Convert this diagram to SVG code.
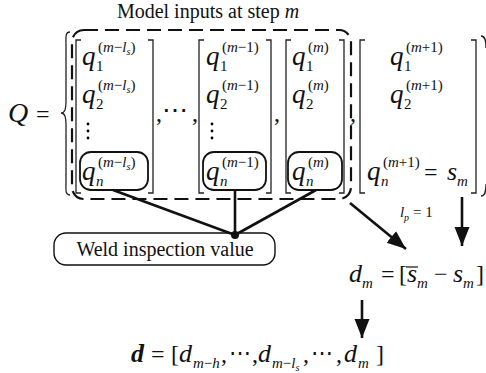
<svg xmlns="http://www.w3.org/2000/svg" width="486" height="373" viewBox="0 0 486 373">
<style>
text{font-family:"Liberation Serif","Times New Roman",serif;fill:#111}
.mi{font-style:italic;font-size:26px}
.q{font-style:italic;font-size:27px}
.up{font-size:24px}
.sb{font-size:15px}
.sp{font-size:15px}
.it{font-style:italic}
.ss{font-style:italic;font-size:10px}
.lbl{font-size:20px}
.dots{font-family:"DejaVu Serif",serif;font-size:26px}
.dots2{font-family:"DejaVu Serif",serif;font-size:22px}
.br{fill:none;stroke:#222;stroke-width:1.3}
.box{fill:none;stroke:#111;stroke-width:1.8}
.conn{fill:none;stroke:#111;stroke-width:2.6}
.dash{fill:none;stroke:#111;stroke-width:2.2;stroke-dasharray:14 7}
</style>
<defs>
<marker id="ah" markerUnits="userSpaceOnUse" markerWidth="20" markerHeight="16" refX="19" refY="7.5" orient="auto">
<path d="M0,0 L19,7.5 L0,15 z" fill="#111"/>
</marker>
</defs>

<g id="title"><text class="lbl" x="208" y="18" text-anchor="middle">Model inputs at step <tspan class="it">m</tspan></text></g>

<g id="Q-label">
<text class="mi" x="8" y="122" style="font-size:28px">Q</text>
<text class="up" x="36" y="122">=</text>
<path class="br" d="M70,32 C65,32 66,37 66,46 L66,100 C66,109 65,113 61,113 C65,113 66,117 66,126 L66,181 C66,190 65,195 70,195"/>
<path class="br" d="M481,36 C485,36 486,40 486,48 M481,196 C485,196 486,192 486,184"/>
</g>

<g id="inputs-frame"><rect class="dash" x="72" y="30" width="279" height="169" rx="12"/></g>

<g id="matrix-m-ls">
<path class="br" d="M81,40 H76 V193 H81 M148,40 H153 V193 H148"/>
<text class="q" x="82" y="65">q</text><text class="sb" x="96" y="71">1</text>
<text class="sp" x="98" y="52">(<tspan class="it">m</tspan>−<tspan class="it">l</tspan><tspan class="ss" dy="3">s</tspan><tspan dy="-3">)</tspan></text>
<text class="q" x="82" y="103">q</text><text class="sb" x="96" y="109">2</text>
<text class="sp" x="98" y="90">(<tspan class="it">m</tspan>−<tspan class="it">l</tspan><tspan class="ss" dy="3">s</tspan><tspan dy="-3">)</tspan></text>
<circle cx="88" cy="124" r="1.4"/><circle cx="88" cy="131" r="1.4"/><circle cx="88" cy="138" r="1.4"/>
<rect class="box" x="80" y="152" width="68" height="38" rx="11"/>
<text class="q" x="82" y="180">q</text><text class="sb it" x="96" y="186">n</text>
<text class="sp" x="98" y="167">(<tspan class="it">m</tspan>−<tspan class="it">l</tspan><tspan class="ss" dy="3">s</tspan><tspan dy="-3">)</tspan></text>
</g>

<text class="up" x="156" y="121">,</text>
<text class="dots" x="175" y="119" text-anchor="middle">⋯</text>
<text class="up" x="192" y="121">,</text>

<g id="matrix-m-1">
<path class="br" d="M204,40 H199 V193 H204 M266,40 H271 V193 H266"/>
<text class="q" x="206" y="65">q</text><text class="sb" x="220" y="71">1</text>
<text class="sp" x="222" y="52">(<tspan class="it">m</tspan>−1)</text>
<text class="q" x="206" y="103">q</text><text class="sb" x="220" y="109">2</text>
<text class="sp" x="222" y="90">(<tspan class="it">m</tspan>−1)</text>
<circle cx="212" cy="124" r="1.4"/><circle cx="212" cy="131" r="1.4"/><circle cx="212" cy="138" r="1.4"/>
<rect class="box" x="203" y="152" width="63" height="38" rx="11"/>
<text class="q" x="206" y="180">q</text><text class="sb it" x="220" y="186">n</text>
<text class="sp" x="222" y="167">(<tspan class="it">m</tspan>−1)</text>
</g>

<text class="up" x="274" y="121">,</text>

<g id="matrix-m">
<path class="br" d="M291,40 H286 V193 H291 M339,40 H344 V193 H339"/>
<text class="q" x="292" y="65">q</text><text class="sb" x="306" y="71">1</text>
<text class="sp" x="308" y="52">(<tspan class="it">m</tspan>)</text>
<text class="q" x="292" y="103">q</text><text class="sb" x="306" y="109">2</text>
<text class="sp" x="308" y="90">(<tspan class="it">m</tspan>)</text>
<rect class="box" x="288" y="152" width="54" height="38" rx="11"/>
<text class="q" x="292" y="180">q</text><text class="sb it" x="306" y="186">n</text>
<text class="sp" x="308" y="167">(<tspan class="it">m</tspan>)</text>
</g>

<text class="up" x="350" y="121">,</text>

<g id="matrix-m1">
<path class="br" d="M365,40 H360 V193 H365 M471,40 H476 V193 H471"/>
<text class="q" x="390" y="65">q</text><text class="sb" x="404" y="71">1</text>
<text class="sp" x="406" y="52">(<tspan class="it">m</tspan>+1)</text>
<text class="q" x="390" y="103">q</text><text class="sb" x="404" y="109">2</text>
<text class="sp" x="406" y="90">(<tspan class="it">m</tspan>+1)</text>
<text class="q" x="367" y="180">q</text><text class="sb it" x="381" y="186">n</text>
<text class="sp" x="383" y="167">(<tspan class="it">m</tspan>+1)</text>
<text class="up" x="424" y="180">=</text>
<text class="mi" x="447" y="180">s</text><text class="sb it" x="457" y="186">m</text>
</g>

<g id="weld">
<rect class="box" x="54" y="233" width="221" height="32" rx="12" style="stroke-width:1.4"/>
<text class="lbl" x="165" y="256" text-anchor="middle">Weld inspection value</text>
</g>

<g id="lp-label"><text class="mi" x="400" y="217" style="font-size:15px">l</text><text class="it" x="404" y="221" style="font-size:10px">p</text><text x="413" y="217" style="font-size:15px">= 1</text></g>

<g id="dm">
<text class="mi" x="349" y="282">d</text><text class="sb it" x="362" y="288">m</text>
<text class="up" x="381" y="282">=</text>
<text class="up" x="399" y="282">[</text>
<text class="mi" x="407" y="282">s</text><line x1="406" y1="267" x2="418" y2="267" stroke="#111" stroke-width="1.2"/>
<text class="sb it" x="417" y="288">m</text>
<text class="up" x="434" y="282">−</text>
<text class="mi" x="453" y="282">s</text><text class="sb it" x="463" y="288">m</text>
<text class="up" x="476" y="282">]</text>
</g>

<g id="d-vector">
<text class="mi" x="131" y="362" style="font-weight:bold">d</text>
<text class="up" x="151" y="362">=</text>
<text class="up" x="171" y="362">[</text>
<text class="mi" x="179" y="362">d</text><text class="sb" x="193" y="368"><tspan class="it">m</tspan>−<tspan class="it">h</tspan></text>
<text class="up" x="221" y="362">,</text>
<text class="dots2" x="240" y="360" text-anchor="middle">⋯</text>
<text class="up" x="252" y="362">,</text>
<text class="mi" x="258" y="362">d</text><text class="sb" x="272" y="368"><tspan class="it">m</tspan>−<tspan class="it">l</tspan><tspan class="ss" dy="3">s</tspan></text>
<text class="up" x="303" y="362">,</text>
<text class="dots2" x="322" y="360" text-anchor="middle">⋯</text>
<text class="up" x="336" y="362">,</text>
<text class="mi" x="344" y="362">d</text><text class="sb it" x="358" y="368">m</text>
<text class="up" x="376" y="362">]</text>
</g>

<g id="connectors">
<line class="conn" x1="113" y1="190" x2="235" y2="235"/>
<line class="conn" x1="235" y1="190" x2="235" y2="235"/>
<line class="conn" x1="316" y1="190" x2="235" y2="235"/>
<circle cx="235" cy="235" r="4" fill="#111"/>
<line class="conn" x1="350" y1="203" x2="406" y2="249" marker-end="url(#ah)"/>
<line class="conn" x1="462" y1="197" x2="462" y2="246" marker-end="url(#ah)"/>
<line class="conn" x1="362" y1="300" x2="362" y2="338" marker-end="url(#ah)"/>
</g>
</svg>
